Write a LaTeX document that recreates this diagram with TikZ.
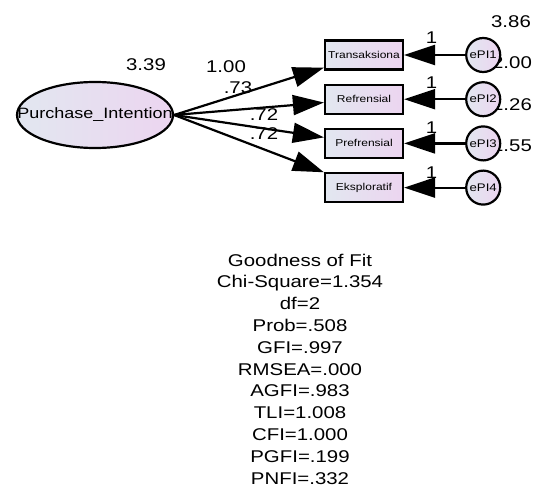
\documentclass[tikz,border=0pt]{standalone}
\usepackage{fontspec}
\newfontfamily\amosfont{Liberation Sans}[FakeStretch=1.2]
\usetikzlibrary{positioning,arrows.meta,shapes}
\definecolor{FillLeft}{RGB}{226,231,240}
\definecolor{FillRight}{RGB}{236,213,240}

\begin{document}
\begin{tikzpicture}[x=1pt, y=-1pt,
    latent/.style={ellipse, draw=black, line width=2.2pt, left color=FillLeft, right color=FillRight,
                   minimum width=156pt, minimum height=66pt, inner sep=0pt,
                   font=\amosfont\fontsize{15}{17}\selectfont},
    observed/.style={rectangle, draw=black, line width=2.2pt, left color=FillLeft, right color=FillRight,
                     minimum width=78pt, minimum height=29pt, inner sep=0pt,
                     font=\amosfont\fontsize{10}{12}\selectfont},
    errvar/.style={circle, draw=black, line width=2.2pt, left color=FillLeft, right color=FillRight,
                   minimum size=34pt, inner sep=0pt,
                   font=\amosfont\fontsize{11}{12}\selectfont},
    num/.style={font=\amosfont\fontsize{17}{20}\selectfont, inner sep=0pt},
    arrow/.style={-{Triangle[length=31pt,width=20pt]}, line width=2.2pt}
]
    \useasboundingbox (0,0) rectangle (538,487);

    % variances of the error terms
    \node[num] (v1) at (511,22) {3.86};
    \node[num] (v2) at (512,63) {2.00};
    \node[num] (v3) at (512,105) {1.26};
    \node[num] (v4) at (512,146) {1.55};

    \node[latent] (pi) at (95,115) {\makebox[0pt]{Purchase\_Intention}};
    \node[num] (vpi) at (146,65) {3.39};

    \node[observed] (b1) at (364,55) {\makebox[0pt]{Transaksiona}};
    \node[observed, below=13pt of b1] (b2) {Refrensial};
    \node[observed, below=13pt of b2] (b3) {Prefrensial};
    \node[observed, below=13pt of b3] (b4) {Eksploratif};

    \node[errvar, right=61pt of b1] (e1) {\makebox[0pt]{ePI1}};
    \node[errvar, right=61pt of b2] (e2) {\makebox[0pt]{ePI2}};
    \node[errvar, right=61pt of b3] (e3) {\makebox[0pt]{ePI3}};
    \node[errvar, right=61pt of b4] (e4) {\makebox[0pt]{ePI4}};

    \draw[arrow] (pi.east) -- (b1);
    \draw[arrow] (pi.east) -- (b2);
    \draw[arrow] (pi.east) -- (b3);
    \draw[arrow] (pi.east) -- (b4);

    \node[num] (l1) at (226,67) {1.00};
    \node[num] (l2) at (238,88) {.73};
    \node[num] (l3) at (264,115) {.72};
    \node[num] (l4) at (264,134) {.72};

    \draw[arrow] (e1) -- node[num, pos=0.55, above=10pt] (f1) {1} (b1);
    \draw[arrow] (e2) -- node[num, pos=0.55, above=10pt] (f2) {1} (b2);
    \draw[arrow] (e3) -- node[num, pos=0.55, above=9pt] (f3) {1} (b3);
    \draw[arrow] (e4) -- node[num, pos=0.55, above=8pt] (f4) {1} (b4);

    % model fit
    \node[align=center, font=\amosfont\fontsize{17}{21.8}\selectfont] (fit) at (300,369)
        {Goodness of Fit\\Chi-Square=1.354\\df=2\\Prob=.508\\GFI=.997\\RMSEA=.000\\AGFI=.983\\TLI=1.008\\CFI=1.000\\PGFI=.199\\PNFI=.332};
\end{tikzpicture}
\end{document}
